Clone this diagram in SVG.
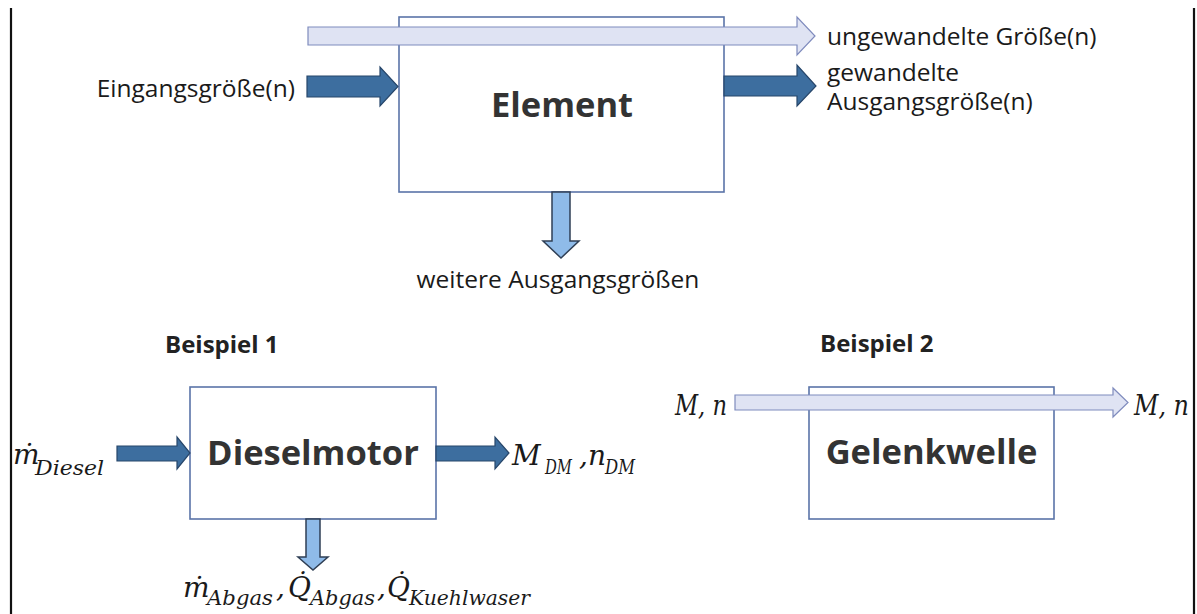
<svg xmlns="http://www.w3.org/2000/svg" width="1197" height="614" viewBox="0 0 1197 614">
<style>
.lbl{font-family:"Open Sans","DejaVu Sans",sans-serif;font-size:24.5px;fill:#1a1a1a}
.ttl{font-family:"Open Sans","DejaVu Sans",sans-serif;font-size:24px;font-weight:bold;fill:#222}
.big{font-family:"Open Sans","DejaVu Sans",sans-serif;font-size:34.5px;font-weight:bold;fill:#333;text-anchor:middle}
.box{fill:#fff;stroke:#5a74a8;stroke-width:1.6}
.math{font-family:"DejaVu Serif","Liberation Serif",serif;font-style:italic;font-size:28px;fill:#1a1a1a}
.sub{font-family:"DejaVu Serif","Liberation Serif",serif;font-style:italic;font-size:20px;fill:#1a1a1a}
.dark{fill:#3d6e9f;stroke:#27466a;stroke-width:1.2}
.light{fill:#dfe3f3;stroke:#7f8bbd;stroke-width:1.2}
.blue{fill:#8fbbe9;stroke:#2f3f55;stroke-width:1.5}
.frame{stroke:#111;stroke-width:2.2}
</style>
<g id="frame">
<line class="frame" x1="11" y1="8" x2="11" y2="614"/>
<line class="frame" x1="1194" y1="8" x2="1194" y2="614"/>
</g>
<g id="element">
<rect class="box" x="399" y="17" width="325" height="175"/>
<text class="big" x="562" y="117">Element</text>
</g>
<g id="dieselmotor">
<rect class="box" x="190" y="387" width="246" height="132"/>
<text class="big" x="313" y="465">Dieselmotor</text>
</g>
<g id="gelenkwelle">
<rect class="box" x="809" y="387" width="245" height="132"/>
<text class="big" x="931.5" y="464">Gelenkwelle</text>
</g>
<g id="connectors">
<path class="light" d="M308,27 H797 V17 L815,36 L797,55 V45 H308 Z"/>
<path class="dark" d="M307,76 H380 V67 L398,86.5 L380,106 V97 H307 Z"/>
<path class="dark" d="M724,76 H797 V65 L816,86 L797,106 V96 H724 Z"/>
<path class="blue" d="M552,192 V241 H543 L561,258 L579,241 H570 V192 Z"/>
<path class="dark" d="M117,446 H177 V437 L190,453 L177,469 V461 H117 Z"/>
<path class="dark" d="M436,446 H495 V437 L509,453 L495,469 V461 H436 Z"/>
<path class="blue" d="M306,519 V557 H298 L313,570 L328,557 H320 V519 Z"/>
<path class="light" d="M735,395 H1113 V388 L1128,402.5 L1113,417 V410 H735 Z"/>
</g>
<g id="labels">
<text class="lbl" x="295" y="97" text-anchor="end">Eingangsgröße(n)</text>
<text class="lbl" x="827" y="45">ungewandelte Größe(n)</text>
<text class="lbl" x="827" y="81">gewandelte</text>
<text class="lbl" x="827" y="110">Ausgangsgröße(n)</text>
<text class="lbl" x="558" y="288" text-anchor="middle">weitere Ausgangsgrößen</text>
<text class="ttl" x="165" y="353">Beispiel 1</text>
<text class="ttl" x="820" y="352">Beispiel 2</text>
</g>
<g id="math-labels">
<text class="math" x="13" y="464">ṁ</text>
<text class="sub" x="35" y="475" textLength="69" lengthAdjust="spacingAndGlyphs">Diesel</text>
<text class="math" x="512" y="465">M</text>
<text class="sub" x="545" y="474" textLength="27" lengthAdjust="spacingAndGlyphs">DM</text>
<text class="math" x="579" y="465">,</text>
<text class="math" x="588" y="465">n</text>
<text class="sub" x="605" y="474" textLength="30" lengthAdjust="spacingAndGlyphs">DM</text>
<text class="math" x="183" y="597">ṁ</text>
<text class="sub" x="207" y="605" textLength="66" lengthAdjust="spacingAndGlyphs">Abgas</text>
<text class="math" x="276" y="597">,</text>
<text class="math" x="288" y="597">Q̇</text>
<text class="sub" x="310" y="605" textLength="65" lengthAdjust="spacingAndGlyphs">Abgas</text>
<text class="math" x="377" y="597">,</text>
<text class="math" x="387" y="597">Q̇</text>
<text class="sub" x="409" y="605" textLength="121" lengthAdjust="spacingAndGlyphs">Kuehlwaser</text>
<text class="math" x="675" y="415" textLength="52" lengthAdjust="spacingAndGlyphs">M, n</text>
<text class="math" x="1134" y="415" textLength="55" lengthAdjust="spacingAndGlyphs">M, n</text>
</g>
</svg>
